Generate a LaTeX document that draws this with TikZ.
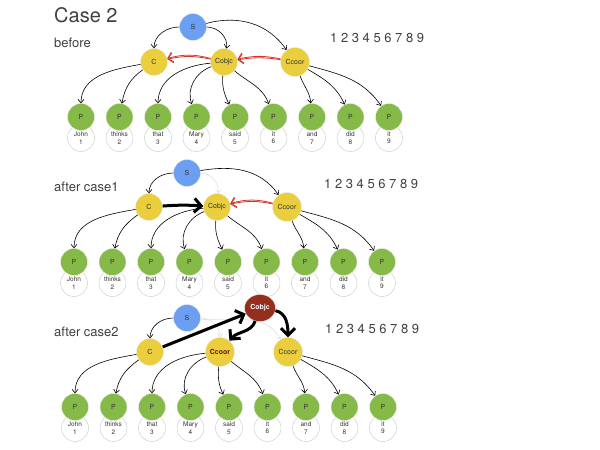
\documentclass[tikz,border=0pt]{standalone}
\usepackage{fontspec}
\setmainfont{TeX Gyre Heros}
\usepackage{tikz}
\usetikzlibrary{arrows.meta}
\usetikzlibrary{backgrounds}
\usetikzlibrary{shapes.geometric}
\usepackage{xcolor}
\definecolor{rootblue}{RGB}{108,158,242}
\definecolor{catyellow}{RGB}{234,206,62}
\definecolor{leafgreen}{RGB}{134,186,72}
\definecolor{objbrown}{RGB}{150,46,30}
\definecolor{movered}{RGB}{212,52,44}
\definecolor{coortext}{RGB}{110,20,10}
\newcommand{\fsz}[1]{\fontsize{#1}{#1}\selectfont}

\begin{document}
\begin{tikzpicture}[x=1pt,y=1pt]
\tikzstyle{every node}=[inner sep=0pt]
\tikzstyle{head}=[circle,minimum size=27pt,draw=gray!15,line width=0.4pt,text=black!80,font=\fsz{7}]
\tikzstyle{root}=[head,fill=rootblue]
\tikzstyle{cat}=[head,fill=catyellow]
\tikzstyle{leaf}=[head,fill=leafgreen]
\tikzstyle{word}=[circle,minimum size=27pt,draw=gray!45,fill=white,align=center,text=black!80,font=\fontsize{6.5}{7.5}\selectfont]
\tikzstyle{dep}=[-{Straight Barb[length=3.5pt,width=6pt]},line width=0.6pt]
\tikzstyle{faded}=[dep,color=gray!25]
\tikzstyle{redmove}=[-{Straight Barb[length=5pt,width=10pt]},color=movered,line width=0.8pt]
\tikzstyle{bigmove}=[-{Straight Barb[length=7pt,width=14pt]},line width=3pt]
\tikzstyle{caption}=[anchor=base west,text=black!75,font=\fsz{13}]
\useasboundingbox (0,0) rectangle (600,450);

\node[anchor=base west,text=black!75,font=\fsz{20}] (case) at (54,427) {Case 2};
\node[caption] (before) at (54,402) {before};
\node[caption] (after1) at (54,258) {after case1};
\node[caption] (after2) at (54,113) {after case2};
\node[caption] (idx1) at (330,407) {1 2 3 4 5 6 7 8 9};
\node[caption] (idx2) at (324,261) {1 2 3 4 5 6 7 8 9};
\node[caption] (idx3) at (325,116) {1 2 3 4 5 6 7 8 9};

% words and P nodes
\foreach \k/\px/\py in {1/81/333,2/74/188,3/75/43}
  \foreach \w [count=\i] in {John,thinks,that,Mary,said,it,and,did,it}{
    \node[word] (w\k-\i) at ({\px+38.5*(\i-1)},\py-21) {\w\\\i};
    \node[leaf] (p\k-\i) at ({\px+38.5*(\i-1)},\py) {P};
  }

% before
\node[root] (s1) at (193,423) {S};
\node[cat] (c1) at (154,388) {C};
\node[cat] (m1) at (224,388) {Cobjc};
\node[cat,minimum size=29pt] (r1) at (295,388) {Ccoor};
% after case1
\node[root] (s2) at (187,277) {S};
\node[cat] (c2) at (149,243) {C};
\node[cat] (m2) at (217,243) {Cobjc};
\node[cat,minimum size=29pt] (r2) at (287,243) {Ccoor};
% after case2
\node[root] (s3) at (187,132) {S};
\node[cat] (c3) at (150,98) {C};
\node[cat,minimum size=29pt,font=\fsz{7}\bfseries,text=coortext] (m3) at (220,98) {Ccoor};
\node[cat,minimum size=29pt] (r3) at (288,98) {Ccoor};
\node[head,ellipse,fill=objbrown,minimum width=31pt,minimum height=27pt,text=white,font=\fsz{7}\bfseries] (obj3) at (260,142) {Cobjc};

\foreach \k in {1,2,3}{
  \path[dep] (c\k) edge[out=190,in=90] (p\k-1)
    (c\k) edge[out=215,in=80] (p\k-2)
    (m\k) edge[out=185,in=90] (p\k-3)
    (m\k) edge[out=200,in=110] (p\k-4)
    (m\k) edge[out=265,in=115] (p\k-5)
    (m\k) edge[out=-40,in=110] (p\k-6)
    (r\k) edge[out=290,in=95] (p\k-7)
    (r\k) edge[out=-30,in=115] (p\k-8)
    (r\k) edge[out=-15,in=125] (p\k-9);
  \path[dep] (s\k) edge[out=180,in=90] (c\k);
}

\path[dep] (s1) edge[out=0,in=80] (m1)
  (s1) edge[out=15,in=125] (r1)
  (s2) edge[out=10,in=125] (r2);
\path[faded] (s2) edge[out=0,in=85] (m2)
  (s3) edge[out=0,in=90] (m3);
\begin{scope}[on background layer]
\path[faded] (s3) edge[out=-5,in=120] (r3);
\end{scope}

% red moves, drawn twice for a sketchy stroke
\foreach \b in {12,15}
  \path[redmove] (m1) edge[bend right=\b] (c1)
    (r1) edge[bend right=\b-3] (m1)
    (r2) edge[bend right=\b] (m2);
\path[bigmove] (c2) edge[bend left=4] (m2)
  (c3) edge (obj3)
  (obj3) edge[out=250,in=50] (m3)
  (obj3) edge[out=-10,in=90] (r3);
\end{tikzpicture}
\end{document}
